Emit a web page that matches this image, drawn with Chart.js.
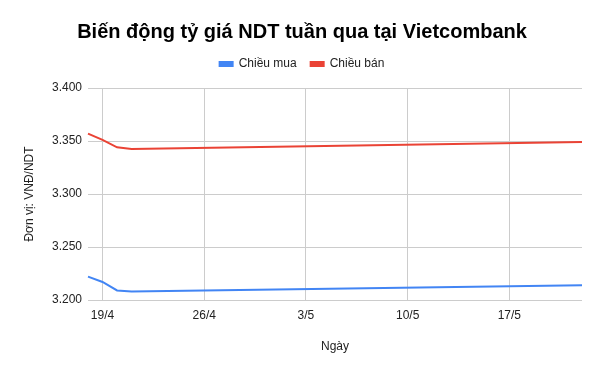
<!DOCTYPE html>
<html lang="vi">
<head>
  <meta charset="UTF-8">
  <title>Biến động tỷ giá NDT</title>
  <style>
    body { margin: 0; background: #fff; }
    .wrap { width: 600px; height: 371px; }
  </style>
</head>
<body>
  <div class="wrap"><canvas id="rateChart" width="600" height="371"></canvas></div>

  <script src="https://cdn.jsdelivr.net/npm/chart.js"></script>
  <script>
    // one label per day, 18/4 to 22/5
    const days = [
      '18/4', '19/4', '20/4', '21/4', '22/4', '23/4', '24/4', '25/4', '26/4', '27/4',
      '28/4', '29/4', '30/4', '1/5', '2/5', '3/5', '4/5', '5/5', '6/5', '7/5',
      '8/5', '9/5', '10/5', '11/5', '12/5', '13/5', '14/5', '15/5', '16/5', '17/5',
      '18/5', '19/5', '20/5', '21/5', '22/5'
    ];
    // quoted days only, gaps are joined (spanGaps)
    const buyRates = [
      3222, 3217, 3209, 3208, null, null, null, null, null, null,
      null, null, null, null, null, null, null, null, null, null,
      null, null, null, null, null, null, null, null, null, null,
      null, null, null, null, 3214
    ];
    const sellRates = [
      3357, 3351, 3344, 3342.5, null, null, null, null, null, null,
      null, null, null, null, null, null, null, null, null, null,
      null, null, null, null, null, null, null, null, null, null,
      null, null, null, null, 3349
    ];
    const shownTicks = ['19/4', '26/4', '3/5', '10/5', '17/5'];

    const fmt = v => Math.round(v).toString().replace(/\B(?=(\d{3})+(?!\d))/g, '.');
    const isShown = i => shownTicks.includes(days[i]);

    // extra space under the legend
    const legendGap = {
      id: 'legendGap',
      beforeInit(chart) {
        const fit = chart.legend.fit;
        chart.legend.fit = function () {
          fit.bind(chart.legend)();
          this.height += 8;
        };
      }
    };

    const ctx = document.getElementById('rateChart').getContext('2d');
    new Chart(ctx, {
      type: 'line',
      data: {
        labels: days,
        datasets: [
          {
            label: 'Chiều mua',
            data: buyRates,
            borderColor: '#4285F4',
            backgroundColor: '#4285F4',
            borderWidth: 2,
            pointRadius: 0,
            spanGaps: true,
            tension: 0
          },
          {
            label: 'Chiều bán',
            data: sellRates,
            borderColor: '#EA4335',
            backgroundColor: '#EA4335',
            borderWidth: 2,
            pointRadius: 0,
            spanGaps: true,
            tension: 0
          }
        ]
      },
      plugins: [legendGap],
      options: {
        responsive: false,
        animation: false,
        layout: { padding: { left: 22, right: 18, top: 0, bottom: 17 } },
        plugins: {
          title: {
            display: true,
            text: 'Biến động tỷ giá NDT tuần qua tại Vietcombank',
            color: '#000',
            font: { family: 'Arial', size: 20, weight: 'bold' },
            padding: { top: 20, bottom: 0 }
          },
          legend: {
            labels: {
              color: '#222',
              font: { family: 'Arial', size: 12 },
              boxWidth: 13,
              boxHeight: 4,
              padding: 14
            }
          },
          tooltip: { enabled: false }
        },
        scales: {
          x: {
            offset: false,
            afterFit: s => { s.height = 54; },
            border: { display: false },
            grid: {
              drawTicks: false,
              color: c => isShown(c.index) ? '#cccccc' : 'rgba(0,0,0,0)'
            },
            ticks: {
              autoSkip: false,
              maxRotation: 0,
              padding: 8,
              color: '#222',
              font: { family: 'Arial', size: 12 },
              callback: (v, i) => isShown(i) ? days[i] : ''
            },
            title: {
              display: true,
              text: 'Ngày',
              color: '#222',
              font: { family: 'Arial', size: 12 },
              padding: 0
            }
          },
          y: {
            min: 3200,
            max: 3400,
            afterFit: s => { s.width = 66; },
            border: { display: false },
            grid: { drawTicks: false, color: '#cccccc' },
            ticks: {
              stepSize: 50,
              padding: 6,
              color: '#222',
              font: { family: 'Arial', size: 12 },
              callback: v => fmt(v)
            },
            title: {
              display: true,
              text: 'Đơn vị: VNĐ/NDT',
              color: '#222',
              font: { family: 'Arial', size: 12 },
              padding: 0
            }
          }
        }
      }
    });
  </script>
</body>
</html>
